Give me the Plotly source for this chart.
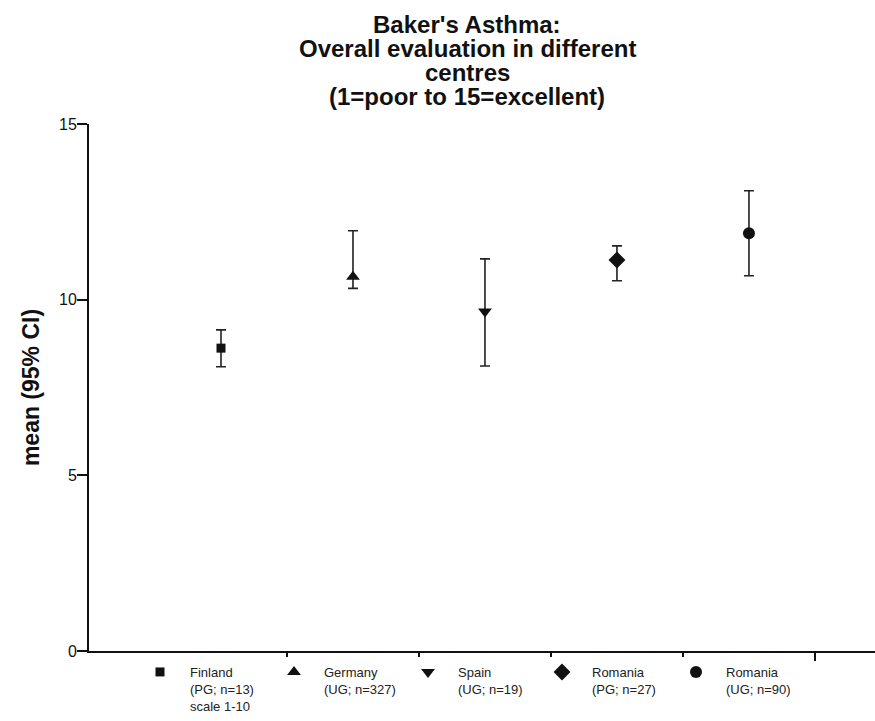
import plotly.graph_objects as go

# ---- data ----
centres = ["Finland", "Germany", "Spain", "Romania", "Romania"]
details = ["(PG; n=13)<br>scale 1-10", "(UG; n=327)", "(UG; n=19)", "(PG; n=27)", "(UG; n=90)"]
means = [8.62, 10.65, 9.66, 11.13, 11.89]
ci_upper = [9.14, 11.96, 11.16, 11.53, 13.10]
ci_lower = [8.09, 10.32, 8.11, 10.54, 10.68]
symbols = ["square", "triangle-up", "triangle-down", "diamond", "circle"]
marker_sizes = [9, 12, 12, 13, 12]
y_ticks = [0, 5, 10, 15]
title_lines = ["Baker's Asthma:", "Overall evaluation in different", "centres", "(1=poor to 15=excellent)"]

W, H = 875, 721
ml, mr, mt, mb = 89, 0, 124, 70
ph = H - mt - mb

fig = go.Figure()
for i, (c, d, m, u, l, s, ms) in enumerate(zip(centres, details, means, ci_upper, ci_lower, symbols, marker_sizes)):
    fig.add_trace(go.Scatter(
        x=[i + 1], y=[m], mode="markers", name=f"{c}<br>{d}",
        marker=dict(symbol=s, size=ms, color="#111111"),
        error_y=dict(type="data", symmetric=False, array=[u - m], arrayminus=[m - l],
                     color="#222222", thickness=1.6, width=5),
        cliponaxis=False,
    ))

ann = []
for k, t in enumerate(title_lines):
    cpx = 24 + 24.3 * k
    ann.append(dict(text=f"<b>{t}</b>", xref="paper", yref="paper", x=0.481,
                    y=1 + (mt - cpx) / ph, xanchor="center", yanchor="middle",
                    showarrow=False, font=dict(size=24, color="#111111")))

fig.update_layout(
    width=W, height=H,
    margin=dict(l=ml, r=mr, t=mt, b=mb, autoexpand=False),
    paper_bgcolor="white", plot_bgcolor="white",
    font=dict(family="Liberation Sans, Arial, sans-serif", color="#111111"),
    annotations=ann,
    showlegend=True,
    legend=dict(orientation="h", xref="container", yref="container",
                x=130 / W, xanchor="left", y=1 - 657 / H, yanchor="top", valign="top",
                itemwidth=50, entrywidth=69, entrywidthmode="pixels",
                font=dict(size=13, color="#222222"), itemclick=False),
)
fig.update_xaxes(range=[0, 5.955], showline=True, linewidth=2, linecolor="#111111",
                 tickvals=[1.5, 2.5, 3.5, 4.5, 5.5], ticks="outside", ticklen=8, tickwidth=2,
                 tickcolor="#111111", showticklabels=False, showgrid=False, zeroline=False,
                 automargin=False)
fig.update_yaxes(range=[0, 15], showline=True, linewidth=2, linecolor="#111111",
                 tickvals=y_ticks, ticks="outside", ticklen=10, tickwidth=2, tickcolor="#111111",
                 tickfont=dict(size=16), ticklabelstandoff=-3,
                 showgrid=False, zeroline=False, automargin=False,
                 title=dict(text="<b>mean (95% CI)</b>", font=dict(size=23), standoff=13))

fig.write_html("out.html", config={"displayModeBar": False},
               post_script="document.body.style.margin='0';document.body.style.overflow='hidden';")
